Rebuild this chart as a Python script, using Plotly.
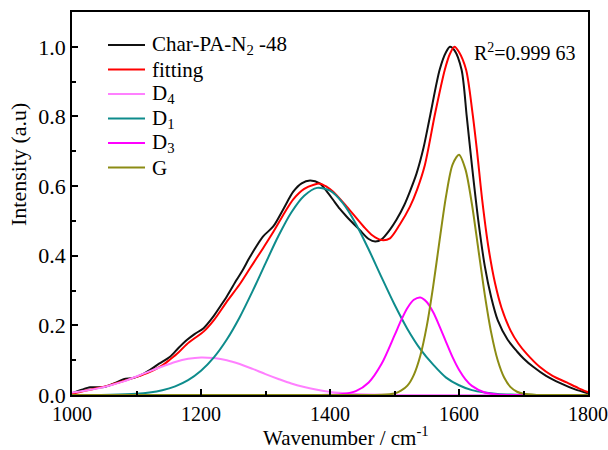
import plotly.graph_objects as go

# ---- data ----
data_x = [1000, 1015, 1028, 1040, 1050, 1065, 1080, 1095, 1110, 1120, 1135, 1152, 1165, 1178,
          1190, 1204, 1219, 1230, 1240, 1255, 1265, 1276, 1296, 1312, 1328, 1343, 1356, 1369,
          1384, 1395, 1405, 1415, 1426, 1446, 1460, 1470, 1480, 1493, 1503, 1515, 1524, 1534,
          1545, 1555, 1570, 1580, 1586, 1593, 1604, 1612, 1620, 1630, 1640, 1650, 1660, 1675,
          1690, 1700, 1715, 1735, 1757, 1780, 1800]
data_y = [0.005, 0.015, 0.022, 0.022, 0.023, 0.033, 0.045, 0.049, 0.060, 0.071, 0.090, 0.110, 0.135, 0.158,
          0.175, 0.192, 0.225, 0.255, 0.283, 0.330, 0.360, 0.397, 0.455, 0.484, 0.535, 0.584, 0.608, 0.616,
          0.608, 0.585, 0.560, 0.535, 0.512, 0.474, 0.448, 0.441, 0.447, 0.475, 0.503, 0.545, 0.585, 0.635,
          0.710, 0.800, 0.934, 0.985, 1.000, 0.990, 0.934, 0.800, 0.660, 0.500, 0.370, 0.280, 0.215, 0.160,
          0.125, 0.105, 0.081, 0.055, 0.034, 0.016, 0.005]

fit_x = [1000, 1020, 1040, 1060, 1080, 1100, 1120, 1140, 1152, 1165, 1178, 1190, 1204, 1220, 1240,
         1260, 1276, 1296, 1312, 1330, 1343, 1360, 1375, 1385, 1395, 1405, 1426, 1452, 1466, 1480,
         1493, 1508, 1524, 1535, 1547, 1563, 1578, 1586, 1593, 1600, 1611, 1621, 1628, 1636, 1646,
         1656, 1666, 1680, 1692, 1705, 1725, 1745, 1767, 1785, 1800]
fit_y = [0.003, 0.012, 0.020, 0.029, 0.040, 0.052, 0.066, 0.085, 0.102, 0.122, 0.146, 0.163, 0.182, 0.215, 0.268,
         0.318, 0.364, 0.421, 0.468, 0.525, 0.562, 0.592, 0.604, 0.607, 0.598, 0.584, 0.541, 0.484, 0.458, 0.445,
         0.450, 0.489, 0.541, 0.590, 0.660, 0.809, 0.934, 0.980, 1.000, 0.985, 0.934, 0.809, 0.700, 0.560, 0.420,
         0.320, 0.250, 0.185, 0.148, 0.118, 0.081, 0.055, 0.036, 0.020, 0.008]

d4_x = [1000, 1020, 1040, 1060, 1080, 1100, 1120, 1140, 1160, 1180, 1200, 1220, 1240, 1260, 1280,
        1300, 1320, 1340, 1360, 1380, 1400, 1420, 1440, 1460, 1500, 1800]
d4_y = [0.007, 0.012, 0.019, 0.028, 0.039, 0.053, 0.068, 0.082, 0.095, 0.104, 0.108, 0.106, 0.100, 0.089, 0.075,
        0.060, 0.046, 0.033, 0.023, 0.015, 0.009, 0.0055, 0.003, 0.0016, 0.0003, 0.0]

d1_x = [1000, 1060, 1100, 1120, 1140, 1160, 1180, 1200, 1220, 1240, 1260, 1280, 1300, 1320, 1340,
        1360, 1380, 1400, 1420, 1440, 1460, 1480, 1500, 1520, 1540, 1560, 1580, 1600, 1620, 1640,
        1660, 1680, 1700, 1740, 1800]
d1_y = [0.0, 0.0008, 0.0037, 0.0073, 0.0138, 0.0249, 0.0427, 0.0696, 0.1079, 0.1592, 0.2233, 0.2982, 0.3782,
        0.4565, 0.5241, 0.5722, 0.5949, 0.5867, 0.5510, 0.4920, 0.4180, 0.3378, 0.2598, 0.1898, 0.1319,
        0.0872, 0.050, 0.028, 0.014, 0.007, 0.003, 0.0012, 0.0004, 0.0001, 0.0]

d3_x = [1000, 1400, 1420, 1440, 1460, 1480, 1500, 1510, 1520, 1530, 1540, 1550, 1560, 1570, 1580,
        1590, 1600, 1610, 1620, 1640, 1660, 1680, 1800]
d3_y = [0.0, 0.0005, 0.0026, 0.011, 0.036, 0.0895, 0.171, 0.2136, 0.250, 0.2734, 0.280, 0.267, 0.2374, 0.1965,
        0.152, 0.1086, 0.0725, 0.0451, 0.0261, 0.0071, 0.0014, 0.0002, 0.0]

g_x = [1000, 1400, 1480, 1500, 1510, 1520, 1530, 1540, 1550, 1560, 1570, 1580, 1590, 1600, 1610,
       1620, 1630, 1640, 1650, 1660, 1670, 1680, 1690, 1700, 1720, 1800]
g_y = [0.0, 0.0, 0.0004, 0.0042, 0.0123, 0.0268, 0.058, 0.1128, 0.1978, 0.3128, 0.4455, 0.5719, 0.6616, 0.690,
       0.648, 0.5486, 0.4185, 0.2878, 0.1783, 0.0996, 0.0501, 0.0227, 0.0093, 0.0034, 0.0003, 0.0]

series_names = ["Char-PA-N<sub>2</sub> -48", "fitting", "D<sub>4</sub>", "D<sub>1</sub>", "D<sub>3</sub>", "G"]
series_x = [data_x, fit_x, d4_x, d1_x, d3_x, g_x]
series_y = [data_y, fit_y, d4_y, d1_y, d3_y, g_y]
series_colors = ["#111111", "#FF0000", "#FF80FF", "#0E8C8C", "#FF00FF", "#8C8C14"]

x_tick_vals = [1000, 1200, 1400, 1600, 1800]
x_minor_vals = [1100, 1300, 1500, 1700]
y_tick_vals = [0, 0.2, 0.4, 0.6, 0.8, 1.0]
y_minor_vals = [0.1, 0.3, 0.5, 0.7, 0.9]

FONT = "Liberation Serif, Times New Roman, serif"

# plot-area geometry (pixels) used to place the hand-made legend and titles
W, H = 608, 450
ML, MR, MT, MB = 72, 20, 12, 55
PW, PH = W - ML - MR, H - MT - MB


def px_to_paper(px, py):
    return (px - ML) / PW, (H - MB - py) / PH


fig = go.Figure()
for name, xs, ys, col in zip(series_names, series_x, series_y, series_colors):
    fig.add_trace(go.Scatter(x=xs, y=ys, mode="lines", name=name, showlegend=False,
                             line=dict(color=col, width=2, shape="spline", smoothing=0.8)))

# legend drawn as shapes + text
legend_rows_py = [45, 69.5, 94, 118.5, 143, 167.5]
for name, col, py in zip(series_names, series_colors, legend_rows_py):
    x0, y0 = px_to_paper(108, py)
    x1, _ = px_to_paper(145, py)
    fig.add_shape(type="line", xref="paper", yref="paper", x0=x0, x1=x1, y0=y0, y1=y0,
                  line=dict(color=col, width=2))
    xt, _ = px_to_paper(151, py)
    fig.add_annotation(x=xt, y=y0, xref="paper", yref="paper", text=name, showarrow=False,
                       xanchor="left", yanchor="middle", borderpad=0,
                       font=dict(family=FONT, size=21, color="black"))

fig.add_annotation(x=1622, y=0.985, xref="x", yref="y", text="R<sup>2</sup>=0.999 63",
                   showarrow=False, xanchor="left", yanchor="middle", borderpad=0,
                   font=dict(family=FONT, size=20, color="black"))

# axis titles
yx, yy = px_to_paper(18, 165)
fig.add_annotation(x=yx, y=yy, xref="paper", yref="paper", text="Intensity (a.u)",
                   showarrow=False, textangle=-90, xanchor="center", yanchor="middle",
                   font=dict(family=FONT, size=22, color="black"))
xx, xy = px_to_paper(346, 436)
fig.add_annotation(x=xx, y=xy, xref="paper", yref="paper", text="Wavenumber / cm<sup>-1</sup>",
                   showarrow=False, xanchor="center", yanchor="middle",
                   font=dict(family=FONT, size=21, color="black"))

axis_common = dict(showline=True, linecolor="black", linewidth=1.5, mirror=True,
                   ticks="inside", ticklen=6, tickwidth=1.5, tickcolor="black",
                   showgrid=False, zeroline=False, automargin=False,
                   ticklabeloverflow="allow")

fig.update_xaxes(range=[1000, 1800], tickmode="array", tickvals=x_tick_vals,
                 tickfont=dict(family=FONT, size=20, color="black"),
                 minor=dict(tickmode="array", tickvals=x_minor_vals, ticks="inside",
                            ticklen=4, tickwidth=1.5, tickcolor="black"),
                 **axis_common)
fig.update_yaxes(range=[0, 1.1], tickmode="array", tickvals=y_tick_vals,
                 tickformat=".1f",
                 tickfont=dict(family=FONT, size=22, color="black"),
                 minor=dict(tickmode="array", tickvals=y_minor_vals, ticks="inside",
                            ticklen=4, tickwidth=1.5, tickcolor="black"),
                 **axis_common)

fig.update_layout(
    width=W, height=H,
    margin=dict(l=ML, r=MR, t=MT, b=MB, autoexpand=False),
    paper_bgcolor="white", plot_bgcolor="white",
    font=dict(family=FONT, color="black"),
    showlegend=False,
)

fig.write_html("out.html")
